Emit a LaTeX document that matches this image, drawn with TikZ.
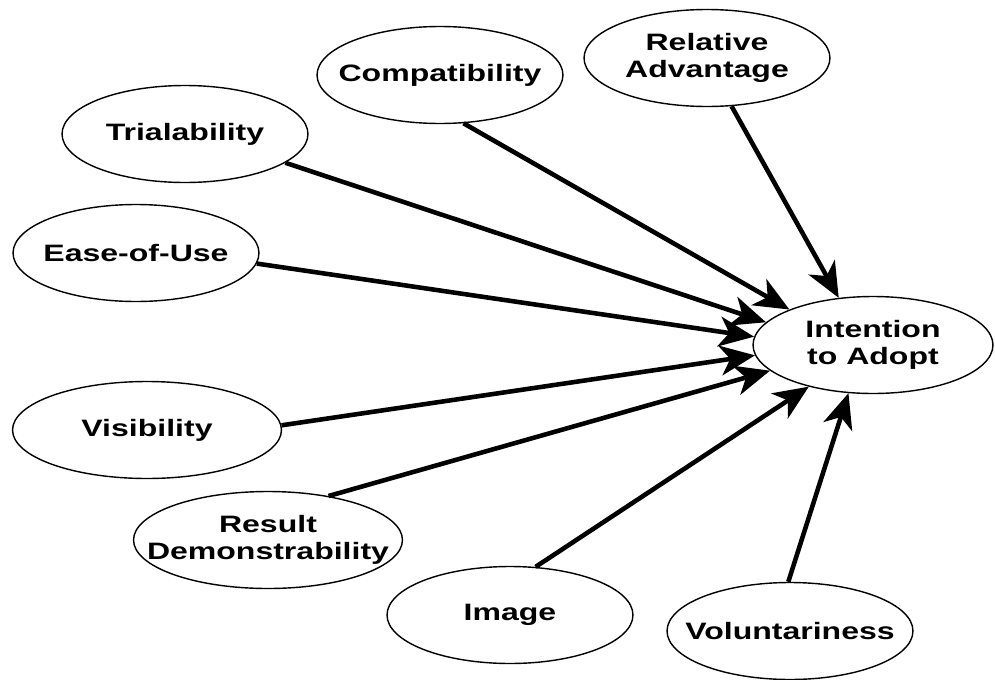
\documentclass[tikz,border=0pt]{standalone}
\usepackage{fontspec}
\setmainfont{Liberation Sans}[FakeStretch=1.35]
\usetikzlibrary{shapes.geometric,arrows.meta}
\tikzset{>={Stealth[length=0.7cm,width=0.6cm,inset=0.2cm]}}

\begin{document}
\begin{tikzpicture}[
    x=0.02cm, y=-0.02cm,
    every node/.style={draw, ellipse, line width=0.8pt, align=center,
        inner xsep=-1.2cm, inner ysep=0pt,
        minimum width=4.92cm, minimum height=1.94cm,
        font=\fontsize{13.5}{15.4}\selectfont\bfseries},
    wide/.style={minimum width=5.38cm},
    link/.style={->, line width=2.6pt}
]
    \useasboundingbox (0,0) rectangle (995,680);

    % Nodes
    \node (RelAdv) at (707,58) {Relative\\Advantage};
    \node (Compat) at (440,75) {Compatibility};
    \node (Trial) at (185,134) {Trialability};
    \node (Ease) at (136,253) {Ease-of-Use};
    \node (Visib) [wide] at (147,430) {Visibility};
    \node (Result) [wide] at (268,540) {Result\\Demonstrability};
    \node (Image) at (510,615) {Image};
    \node (Volun) at (790,631) {Voluntariness};
    \node (Intention) [minimum width=4.8cm] at (873,345) {Intention\\to Adopt};

    % Arrows
    \draw[link] (RelAdv.-63) -- (Intention.126);
    \draw[link] (Compat.-64) -- (Intention.157);
    \draw[link] (Trial.-16) -- (Intention.168);
    \draw[link] (Ease.-5) -- (Intention.176);
    \draw[link] (Visib.2) -- (Intention.185);
    \draw[link] (Result.36) -- (Intention.194);
    \draw[link] (Image.62) -- (Intention.213);
    \draw[link] (Volun.92) -- (Intention.243);
\end{tikzpicture}
\end{document}
